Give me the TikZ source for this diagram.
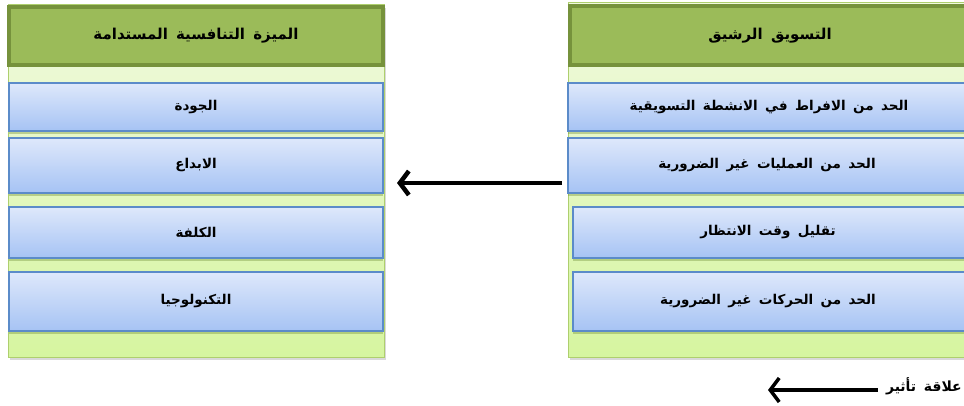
\documentclass[tikz,border=0pt]{standalone}
\usepackage{fontspec}
\newfontfamily\arabicfont[Script=Arabic]{DejaVu Sans}
\TeXXeTstate=1
\usetikzlibrary{arrows.meta,shadows}
\definecolor{hdrfill}{HTML}{9BBB59}
\definecolor{hdrdraw}{HTML}{76923C}
\definecolor{coltop}{HTML}{F0FADF}
\definecolor{colbot}{HTML}{D6F5A0}
\definecolor{coldraw}{HTML}{AECF6E}
\definecolor{boxtop}{HTML}{DEE8FB}
\definecolor{boxbot}{HTML}{A6C3F4}
\definecolor{boxdraw}{HTML}{5B8BC9}
\newcommand\artext[1]{{\arabicfont\bfseries\spaceskip=0.55em\beginR #1\endR}}
\begin{document}
\begin{tikzpicture}[x=1pt,y=-1pt,
  panel/.style={draw=coldraw, line width=1pt, top color=coltop, bottom color=colbot,
    inner sep=0pt, outer sep=0pt,
    drop shadow={shadow xshift=2pt, shadow yshift=-3pt, opacity=0.3}},
  header/.style={draw=hdrdraw, line width=4pt, fill=hdrfill, inner sep=0pt, outer sep=0pt,
    font=\fontsize{15}{17}\selectfont},
  item/.style={draw=boxdraw, line width=1.2pt, top color=boxtop, bottom color=boxbot,
    inner sep=0pt, outer sep=0pt, font=\fontsize{13.5}{15}\selectfont,
    drop shadow={shadow xshift=0pt, shadow yshift=-3pt, opacity=0.4, fill=hdrdraw}},
  link/.style={line width=4.5pt, -{Straight Barb[length=9pt,width=24pt]}},
  legendtext/.style={inner sep=0pt, font=\fontsize{14}{16}\selectfont}]
\useasboundingbox (0,0) rectangle (964,406);
% left panel
\node[panel, minimum width=376pt, minimum height=352pt, anchor=north west] (lp) at (8,5) {};
\node[header, minimum width=374pt, minimum height=58pt, anchor=north west] (lh) at (9,7)
  {\artext{الميزة التنافسية المستدامة}};
\node[item, minimum width=374pt, minimum height=48pt, anchor=north west] (l1) at (9,83) {\artext{الجودة}};
\node[item, minimum width=374pt, minimum height=55pt, anchor=north west] (l2) at (9,138) {\artext{الابداع}};
\node[item, minimum width=374pt, minimum height=51pt, anchor=north west] (l3) at (9,207) {\artext{الكلفة}};
\node[item, minimum width=374pt, minimum height=59pt, anchor=north west] (l4) at (9,272) {\artext{التكنولوجيا}};
% right panel
\node[panel, minimum width=410pt, minimum height=354pt, anchor=north west] (rp) at (568,3) {};
\node[header, minimum width=406pt, minimum height=59pt, anchor=north west] (rh) at (570,6)
  {\hspace*{-6pt}\artext{التسويق الرشيق}};
\node[item, minimum width=410pt, minimum height=48pt, anchor=north west] (r1) at (568,83)
  {\hspace*{-8pt}\artext{الحد من الافراط في الانشطة التسويقية}};
\node[item, minimum width=410pt, minimum height=55pt, anchor=north west] (r2) at (568,138)
  {\hspace*{-12pt}\artext{الحد من العمليات غير الضرورية}};
\node[item, minimum width=405pt, minimum height=51pt, anchor=north west] (r3) at (573,207)
  {\hspace*{-15pt}\artext{تقليل وقت الانتظار}};
\node[item, minimum width=405pt, minimum height=59pt, anchor=north west] (r4) at (573,272)
  {\hspace*{-15pt}\artext{الحد من الحركات غير الضرورية}};
% main arrow
\coordinate (from) at ([xshift=-6pt]rp.west |- 0,183);
\coordinate (to) at ([xshift=13pt]lp.east |- 0,183);
\draw[link] (from) -- (to);
% legend
\node[legendtext, anchor=east] (leg) at (962,386) {\artext{علاقة تأثير}};
\coordinate (legstart) at ([xshift=-8pt]leg.west |- 0,390);
\coordinate (legend) at (768,390);
\draw[link, line width=3.5pt] (legstart) -- (legend);
\end{tikzpicture}
\end{document}
